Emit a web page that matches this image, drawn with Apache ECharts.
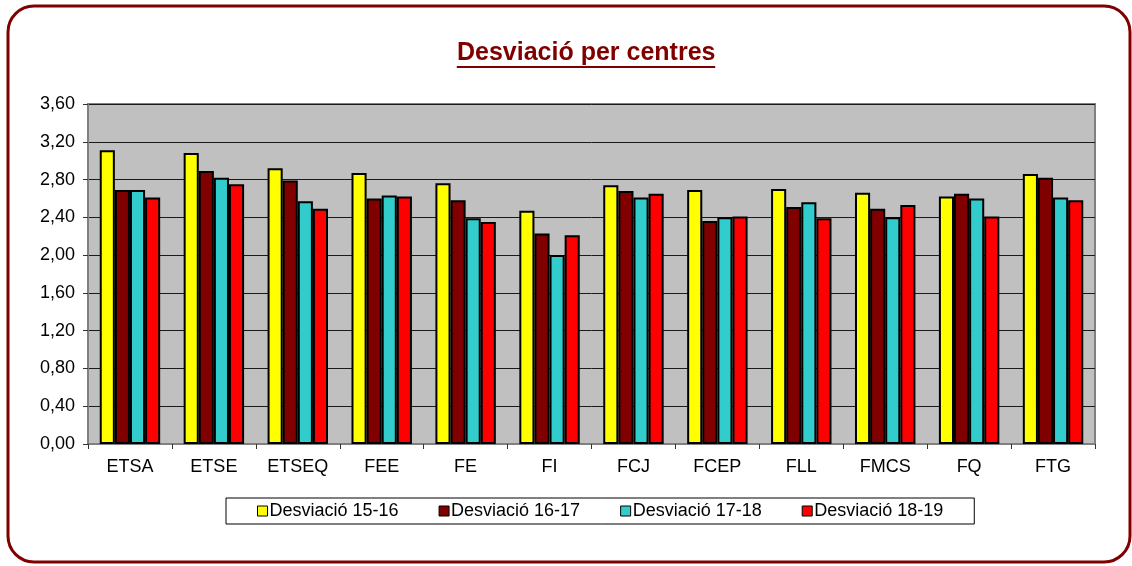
<!DOCTYPE html>
<html>
<head>
<meta charset="utf-8">
<script src="https://cdn.jsdelivr.net/npm/echarts@6/dist/echarts.min.js"></script>
<style>
html,body{margin:0;padding:0;background:#fff;}
#chart{width:1132px;height:566px;}
</style>
</head>
<body>
<div id="chart"></div>
<script>
const categories = ['ETSA','ETSE','ETSEQ','FEE','FE','FI','FCJ','FCEP','FLL','FMCS','FQ','FTG'];
const seriesNames = ['Desviació 15-16','Desviació 16-17','Desviació 17-18','Desviació 18-19'];
const d1516 = [3.11, 3.08, 2.92, 2.87, 2.76, 2.47, 2.74, 2.69, 2.70, 2.66, 2.62, 2.86];
const d1617 = [2.69, 2.89, 2.79, 2.60, 2.58, 2.23, 2.68, 2.36, 2.51, 2.49, 2.65, 2.82];
const d1718 = [2.69, 2.82, 2.57, 2.63, 2.39, 2.00, 2.61, 2.40, 2.56, 2.40, 2.60, 2.61];
const d1819 = [2.61, 2.75, 2.49, 2.62, 2.35, 2.21, 2.65, 2.41, 2.39, 2.53, 2.41, 2.58];
const colors = ['#FFFF00','#800000','#33CCCC','#FF0000'];
const titleText = 'Desviació per centres';

const chart = echarts.init(document.getElementById('chart'));
const font = '"Liberation Sans", Arial, sans-serif';
const titleFontSize = 25;

// measure title width for underline
const cv = document.createElement('canvas').getContext('2d');
cv.font = 'bold ' + titleFontSize + 'px "Liberation Sans"';
const tw = cv.measureText(titleText).width;
const tcx = 586;

const allData = [d1516, d1617, d1718, d1819];
const series = allData.map((d, i) => ({
  name: seriesNames[i],
  type: 'bar',
  data: d,
  barGap: '0%',
  barCategoryGap: '28%',
  itemStyle: {color: colors[i], borderColor: '#000', borderWidth: 2},
  emphasis: {disabled: true}
}));

chart.setOption({
  animation: false,
  backgroundColor: '#fff',
  title: {
    text: titleText,
    left: Math.round(tcx - tw / 2),
    top: 41,
    padding: 0,
    textStyle: {fontFamily: font, fontSize: titleFontSize, fontWeight: 'bold', color: '#800000'}
  },
  graphic: [
    {type: 'rect', shape: {x: 8, y: 6, width: 1122, height: 556, r: 26},
     style: {fill: 'none', stroke: '#800000', lineWidth: 3}, silent: true, z: 100},
    {type: 'line', shape: {x1: tcx - tw/2, y1: 67, x2: tcx + tw/2, y2: 67},
     style: {stroke: '#800000', lineWidth: 2}, silent: true}
  ],
  legend: {
    data: seriesNames,
    top: 498,
    left: 226,
    orient: 'horizontal',
    padding: [4, 31],
    itemGap: 40,
    itemWidth: 10,
    itemHeight: 10,
    icon: 'rect',
    borderColor: '#000',
    borderWidth: 1,
    backgroundColor: '#fff',
    textStyle: {fontFamily: font, fontSize: 18, color: '#000', padding: [0, 0, 0, -3]},
    itemStyle: {borderColor: '#000', borderWidth: 1}
  },
  grid: {
    left: 88, right: 37, top: 104, bottom: 122,
    show: true, backgroundColor: '#C0C0C0', borderColor: '#808080', borderWidth: 2
  },
  xAxis: {
    type: 'category',
    data: categories,
    axisLine: {lineStyle: {color: '#808080', width: 1}},
    axisTick: {show: true, length: 5, lineStyle: {color: '#333'}},
    axisLabel: {fontFamily: font, fontSize: 18, color: '#000', margin: 14}
  },
  yAxis: {
    type: 'value',
    min: 0, max: 3.6, interval: 0.4,
    axisLine: {show: true, lineStyle: {color: '#808080', width: 1}},
    axisTick: {show: true, length: 5, lineStyle: {color: '#333'}},
    axisLabel: {fontFamily: font, fontSize: 18, color: '#000', margin: 13,
      formatter: v => v.toFixed(2).replace('.', ',')},
    splitLine: {lineStyle: {color: '#1a1a1a', width: 1}}
  },
  series: series
});
</script>
</body>
</html>
